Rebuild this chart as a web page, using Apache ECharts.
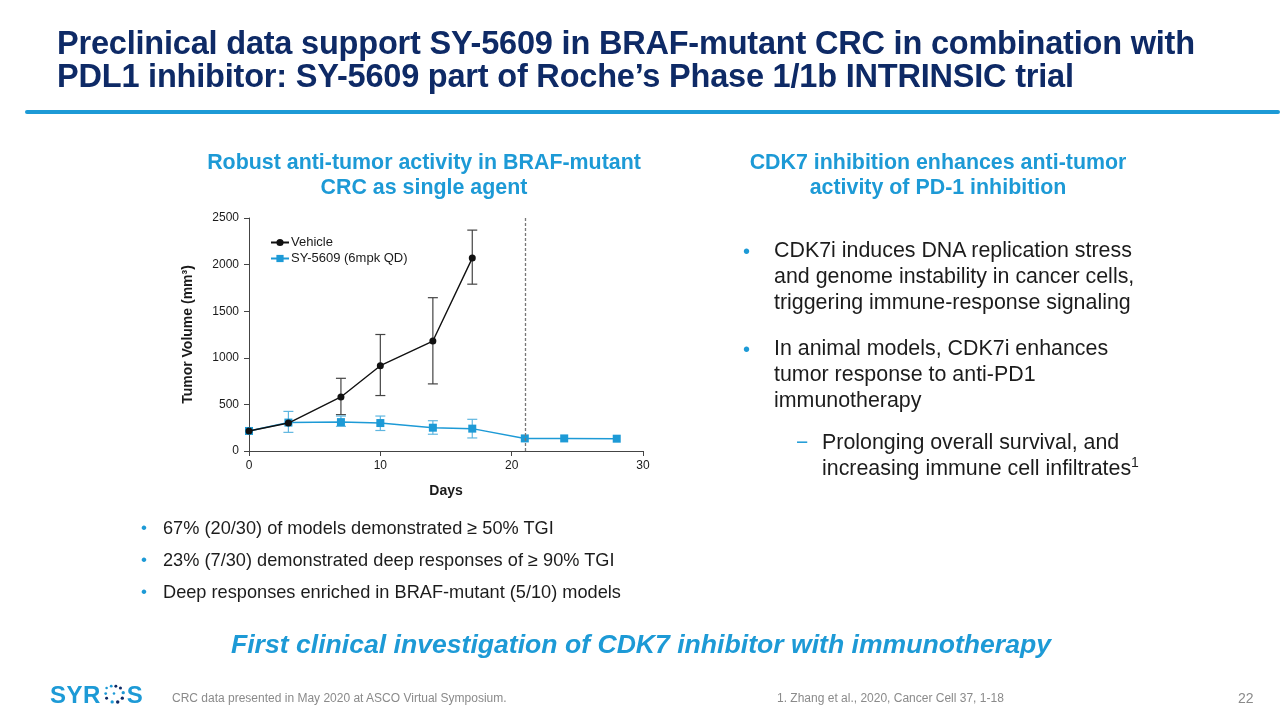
<!DOCTYPE html>
<html>
<head>
<meta charset="utf-8">
<script src="https://cdn.jsdelivr.net/npm/echarts@6/dist/echarts.min.js"></script>
<style>
  html,body{margin:0;padding:0;background:#fff;}
  #wrap{position:relative;width:1280px;height:720px;overflow:hidden;font-family:"Liberation Sans",Arial,sans-serif;}
  #chart{position:absolute;left:0;top:0;width:1280px;height:720px;}
  .t{position:absolute;white-space:nowrap;z-index:2;}
  .title{left:57px;top:27px;font-size:32.5px;font-weight:bold;color:#0e2a66;line-height:33px;letter-spacing:-0.2px;}
  .rule{position:absolute;left:25px;top:110px;width:1255px;height:4px;background:#1d9ad6;border-radius:2px;}
  .sub{font-size:21.4px;font-weight:bold;color:#1d9ad6;text-align:center;line-height:25px;}
  .bul{font-size:21.4px;color:#1c1c1c;line-height:26px;}
  .dot{color:#1d9ad6;}
  .lb{font-size:18.2px;color:#1c1c1c;}
  .foot{font-size:12px;color:#8a8a8a;}
</style>
</head>
<body>
<div id="wrap">
  <div id="chart"></div>
  <div class="t title">Preclinical data support SY-5609 in BRAF-mutant CRC in combination with<br>PDL1 inhibitor: SY-5609 part of Roche’s Phase 1/1b INTRINSIC trial</div>
  <div class="rule"></div>
  <div class="t sub" style="left:194px;top:150px;width:460px;">Robust anti-tumor activity in BRAF-mutant<br>CRC as single agent</div>
  <div class="t sub" style="left:708px;top:150px;width:460px;">CDK7 inhibition enhances anti-tumor<br>activity of PD-1 inhibition</div>

  <div class="t dot" style="left:743px;top:240px;font-size:20px;">•</div>
  <div class="t bul" style="left:774px;top:237px;">CDK7i induces DNA replication stress<br>and genome instability in cancer cells,<br>triggering immune-response signaling</div>
  <div class="t dot" style="left:743px;top:338px;font-size:20px;">•</div>
  <div class="t bul" style="left:774px;top:335px;">In animal models, CDK7i enhances<br>tumor response to anti-PD1<br>immunotherapy</div>
  <div class="t dot" style="left:796px;top:430px;font-size:21px;">−</div>
  <div class="t bul" style="left:822px;top:429px;">Prolonging overall survival, and<br>increasing immune cell infiltrates<sup style="font-size:14px;line-height:0;">1</sup></div>

  <div class="t dot" style="left:141px;top:518px;font-size:17px;">•</div>
  <div class="t lb" style="left:163px;top:518px;">67% (20/30) of models demonstrated ≥ 50% TGI</div>
  <div class="t dot" style="left:141px;top:550px;font-size:17px;">•</div>
  <div class="t lb" style="left:163px;top:550px;">23% (7/30) demonstrated deep responses of ≥ 90% TGI</div>
  <div class="t dot" style="left:141px;top:582px;font-size:17px;">•</div>
  <div class="t lb" style="left:163px;top:582px;">Deep responses enriched in BRAF-mutant (5/10) models</div>

  <div class="t" style="left:0;width:1282px;text-align:center;top:629px;font-size:26.6px;font-weight:bold;font-style:italic;color:#1d9ad6;">First clinical investigation of CDK7 inhibitor with immunotherapy</div>

  <div class="t" style="left:50px;top:681px;font-size:24px;font-weight:bold;color:#1d9ad6;letter-spacing:0.5px;">SYR<svg width="24" height="21" viewBox="0 0 26 22" style="vertical-align:-2px;margin:0 1px;">
    <circle cx="5" cy="4" r="1.4" fill="#1d9ad6"/><circle cx="10" cy="2" r="1.5" fill="#1d9ad6"/><circle cx="15" cy="2" r="1.6" fill="#0e2a66"/><circle cx="20" cy="4" r="1.7" fill="#0e2a66"/>
    <circle cx="23" cy="9" r="1.8" fill="#1d9ad6"/><circle cx="22" cy="15" r="1.8" fill="#0e2a66"/><circle cx="17" cy="19" r="1.9" fill="#0e2a66"/><circle cx="11" cy="19" r="1.8" fill="#1d9ad6"/>
    <circle cx="5" cy="15" r="1.6" fill="#0e2a66"/><circle cx="4" cy="10" r="1.5" fill="#1d9ad6"/><circle cx="13" cy="10" r="1.4" fill="#1d9ad6"/>
  </svg>S</div>
  <div class="t foot" style="left:172px;top:691px;">CRC data presented in May 2020 at ASCO Virtual Symposium.</div>
  <div class="t foot" style="left:777px;top:691px;">1. Zhang et al., 2020, Cancer Cell 37, 1-18</div>
  <div class="t foot" style="left:1238px;top:690px;font-size:14px;">22</div>
</div>
<script>
// ---- data ----
var vehicleDays = [0, 3, 7, 10, 14, 17];
var vehicleMean = [215, 300, 580, 915, 1180, 2070];
var vehicleErrDays = [7, 10, 14, 17];
var vehicleErrLow = [390, 595, 720, 1790];
var vehicleErrHigh = [780, 1250, 1645, 2370];

var syDays = [0, 3, 7, 10, 14, 17, 21, 24, 28];
var syMean = [215, 305, 310, 300, 250, 240, 135, 135, 132];
var syErrDays = [3, 7, 10, 14, 17];
var syErrLow = [200, 265, 220, 180, 140];
var syErrHigh = [425, 375, 375, 325, 340];

var xTicks = [0, 10, 20, 30];
var yTicks = [0, 500, 1000, 1500, 2000, 2500];
var dosingEndDay = 21;

var seriesNames = ['Vehicle', 'SY-5609 (6mpk QD)'];
var colVehicle = '#111111';
var colSy = '#1d9ad6';

function pairs(xs, ys){ return xs.map(function(x,i){ return [x, ys[i]]; }); }
function errData(xs, lo, hi){ return xs.map(function(x,i){ return [x, lo[i], hi[i]]; }); }

function errRender(color){
  return function(params, api){
    var x = api.value(0);
    var lo = api.coord([x, api.value(1)]);
    var hi = api.coord([x, api.value(2)]);
    var w = 5;
    var st = {stroke: color, lineWidth: 1.2};
    return {type:'group', children:[
      {type:'line', shape:{x1:lo[0], y1:lo[1], x2:hi[0], y2:hi[1]}, style:st},
      {type:'line', shape:{x1:lo[0]-w, y1:lo[1], x2:lo[0]+w, y2:lo[1]}, style:st},
      {type:'line', shape:{x1:hi[0]-w, y1:hi[1], x2:hi[0]+w, y2:hi[1]}, style:st}
    ]};
  };
}

var chart = echarts.init(document.getElementById('chart'));
chart.setOption({
  animation: false,
  textStyle: {fontFamily: '"Liberation Sans", Arial, sans-serif'},
  grid: {left: 249, top: 218, width: 394, height: 233, containLabel: false},
  legend: {
    data: seriesNames,
    orient: 'vertical',
    left: 265, top: 231,
    itemWidth: 18, itemHeight: 9, itemGap: 3,
    textStyle: {fontSize: 13, color: '#1a1a1a', padding: [0,0,0,-3]}
  },
  xAxis: {
    type: 'value', min: 0, max: 30, interval: 10,
    name: 'Days', nameLocation: 'middle', nameGap: 33,
    nameTextStyle: {fontSize: 14, fontWeight: 'bold', color: '#1a1a1a'},
    axisLine: {show: true, lineStyle: {color: '#444', width: 1}},
    axisTick: {show: true, length: 5, lineStyle: {color: '#444'}},
    axisLabel: {fontSize: 12, color: '#1a1a1a', margin: 9, formatter: function(v){ return String(v); }},
    splitLine: {show: false}
  },
  yAxis: {
    type: 'value', min: 0, max: 2500, interval: 500,
    name: 'Tumor Volume (mm³)', nameLocation: 'middle', nameGap: 54, nameRotate: 90,
    nameTextStyle: {fontSize: 14, fontWeight: 'bold', color: '#1a1a1a'},
    axisLine: {show: true, lineStyle: {color: '#444', width: 1}},
    axisTick: {show: true, length: 5, lineStyle: {color: '#444'}},
    axisLabel: {fontSize: 12, color: '#1a1a1a', margin: 10, formatter: function(v){ return String(v); }},
    splitLine: {show: false}
  },
  series: [
    {
      name: seriesNames[0], type: 'line', data: pairs(vehicleDays, vehicleMean),
      symbol: 'circle', symbolSize: 7, z: 4,
      lineStyle: {color: colVehicle, width: 1.4},
      itemStyle: {color: colVehicle},
      markLine: {
        silent: true, symbol: 'none', label: {show: false},
        lineStyle: {color: '#777', type: [3, 2], width: 1.3},
        data: [{xAxis: dosingEndDay}]
      }
    },
    {
      name: seriesNames[1], type: 'line', data: pairs(syDays, syMean),
      symbol: 'rect', symbolSize: 8, z: 3,
      lineStyle: {color: colSy, width: 1.5},
      itemStyle: {color: colSy}
    },
    {
      type: 'custom', data: errData(vehicleErrDays, vehicleErrLow, vehicleErrHigh),
      renderItem: errRender('#444'), z: 2, silent: true
    },
    {
      type: 'custom', data: errData(syErrDays, syErrLow, syErrHigh),
      renderItem: errRender('#5fb6e0'), z: 2, silent: true
    }
  ]
});
</script>
</body>
</html>
